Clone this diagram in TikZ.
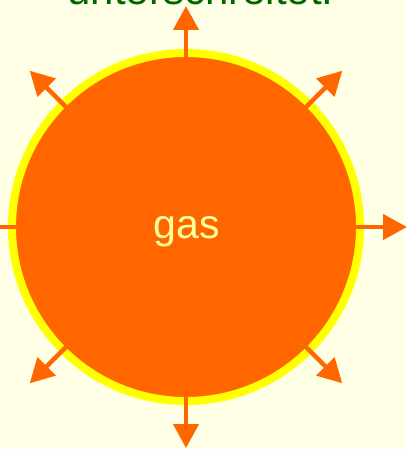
\documentclass[tikz,border=0pt]{standalone}
\usepackage{fontspec}
\setmainfont{Liberation Sans}
\usetikzlibrary{arrows.meta}
\definecolor{gasorange}{HTML}{FF6600}
\definecolor{rimyellow}{HTML}{FFFF00}
\definecolor{paleyellow}{HTML}{FFFFE6}
\definecolor{labelyellow}{HTML}{FFFF99}
\definecolor{titlegreen}{HTML}{006600}
\begin{document}
\begin{tikzpicture}[x=1pt, y=-1pt,
  flow/.style={draw=gasorange, line width=4.5pt, -{Triangle[length=24pt, width=25pt]}}]
% Background
\fill[paleyellow] (0,0) rectangle (405,449);
\useasboundingbox (0,0) rectangle (405,449);
% Title line (cut off at the top)
\node[font=\fontsize{42}{50}\selectfont, text=titlegreen, anchor=base, inner sep=0] (title) at (200.5,5) {unterschreitet.};
% Gas ball with yellow rim
\node[circle, minimum size=348pt, inner sep=0, outer sep=0, fill=gasorange, draw=rimyellow, line width=8pt] (ball) at (186,227) {};
\node[font=\fontsize{41}{49}\selectfont, text=labelyellow, anchor=base, inner sep=0] (gaslabel) at (186.5,238) {gas};
% Arrows pointing outwards
\foreach \a in {0,45,...,315} {
  \coordinate (tip\a) at ([shift={(\a:221pt)}]ball.center);
  \draw[flow, shorten <=-6pt] (ball.\a) -- (tip\a);
}
\end{tikzpicture}
\end{document}
